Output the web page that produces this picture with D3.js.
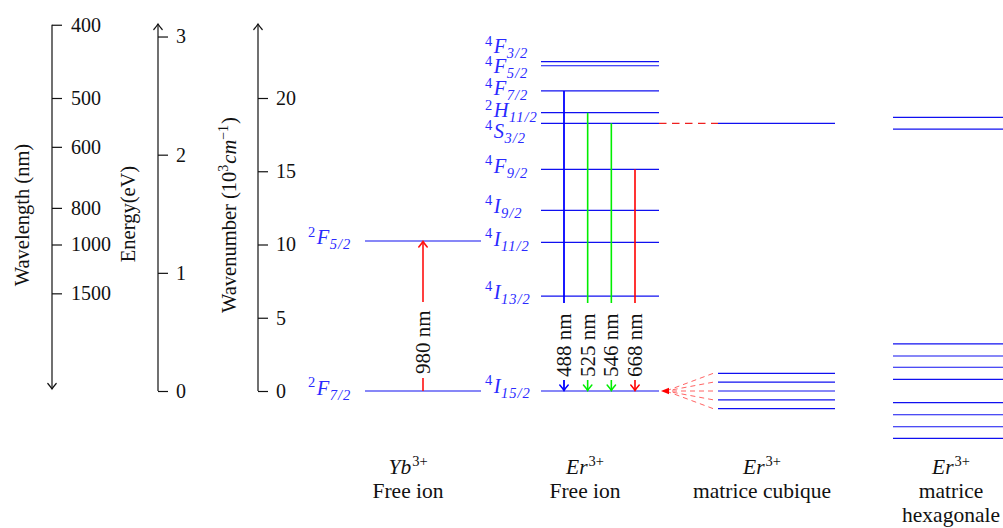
<!DOCTYPE html>
<html><head><meta charset="utf-8">
<script src="https://cdn.jsdelivr.net/npm/d3@7/dist/d3.min.js"></script>
<style>
html,body{margin:0;padding:0;background:#fff;}
svg{display:block;}
</style></head>
<body><svg id="chart" width="1003" height="528"></svg>
<script>
// ---------- data (wavenumbers in 10^3 cm^-1) ----------
const wavenumberTicks = [0, 5, 10, 15, 20];
const energyTicks = [0, 1, 2, 3];
const wavelengthTicks = [400, 500, 600, 800, 1000, 1500];

const ybNames = ["2F7/2", "2F5/2"];
const ybValues = [0, 10.24];

const erNames = ["4I15/2", "4I13/2", "4I11/2", "4I9/2", "4F9/2", "4S3/2", "2H11/2", "4F7/2", "4F5/2", "4F3/2"];
const erValues = [0, 6.48, 10.15, 12.33, 15.13, 18.27, 19.0, 20.48, 22.2, 22.48];

const transitionLabels = ["488 nm", "525 nm", "546 nm", "668 nm"];
const transitionFrom = ["4F7/2", "2H11/2", "4S3/2", "4F9/2"];
const transitionColors = ["#0000ff", "#00ee00", "#00ee00", "#ff0000"];

const cubicUpper = [18.27];
const cubicLower = [1.2, 0.6, 0, -0.6, -1.2];
const hexUpper = [18.68, 17.87];
const hexLower = [3.21, 2.39, 1.62, 0.80, -0.80, -1.62, -2.44, -3.23];

const columnTitles = [["Yb", "Free ion"], ["Er", "Free ion"], ["Er", "matrice cubique"], ["Er", "matrice", "hexagonale"]];

// ---------- layout ----------
const FONT = "'Liberation Serif', 'Times New Roman', 'DejaVu Serif', serif";
const svg = d3.select("#chart");
const y = d3.scaleLinear().domain([0, 20]).range([391, 98]);
const eV = 8.0655; // 10^3 cm^-1 per eV
const yE = d3.scaleLinear().domain([0, 3]).range([y(0), y(3 * eV)]);
const levelColor = "#1010f0";
const labelColor = "#2a2aff";
const FS_TICK = 20, FS_TITLE = 20.5, FS_COL = 21.5, FS_NM = 21;

function arrowHead(g, x, yy, dir, color, w) {
  const p = "M-4.2,5.5 Q-1.2,2 0,0 Q1.2,2 4.2,5.5";
  const rot = dir === "up" ? 0 : dir === "down" ? 180 : dir === "left" ? -90 : 90;
  g.append("path").attr("d", p)
    .attr("transform", `translate(${x},${yy}) rotate(${rot})`)
    .attr("fill", "none").attr("stroke", color).attr("stroke-width", w || 1.2)
    .attr("stroke-linecap", "round");
}

function styleAxis(g) {
  g.attr("font-family", null).attr("font-size", null);
  g.select(".domain").remove();
  g.selectAll(".tick line").attr("stroke", "#111").attr("stroke-width", 1.2);
  g.selectAll(".tick text").attr("fill", "#111").style("font-size", FS_TICK + "px");
}

// Wavelength axis
const gW = svg.append("g").attr("transform", "translate(52,0)");
gW.call(d3.axisRight(y).tickValues(wavelengthTicks.map(l => 1e4 / l))
  .tickFormat((d, i) => wavelengthTicks[i]).tickSize(10).tickPadding(9));
styleAxis(gW);
gW.append("line").attr("x1", 0).attr("x2", 0).attr("y1", y(25)).attr("y2", 389)
  .attr("stroke", "#111").attr("stroke-width", 1.2);
arrowHead(gW, 0, 389, "down", "#111");

// Energy axis
const gE = svg.append("g").attr("transform", "translate(158,0)");
gE.call(d3.axisRight(yE).tickValues(energyTicks).tickFormat(d3.format("d")).tickSize(10).tickPadding(8));
styleAxis(gE);
gE.append("line").attr("x1", 0).attr("x2", 0).attr("y1", 24).attr("y2", y(0))
  .attr("stroke", "#111").attr("stroke-width", 1.2);
arrowHead(gE, 0, 24, "up", "#111");

// Wavenumber axis
const gN = svg.append("g").attr("transform", "translate(258,0)");
gN.call(d3.axisRight(y).tickValues(wavenumberTicks).tickFormat(d3.format("d")).tickSize(10).tickPadding(8));
styleAxis(gN);
gN.append("line").attr("x1", 0).attr("x2", 0).attr("y1", 24).attr("y2", y(0))
  .attr("stroke", "#111").attr("stroke-width", 1.2);
arrowHead(gN, 0, 24, "up", "#111");

// Axis titles
function vTitle(x, cy, build) {
  const t = svg.append("text").attr("transform", `translate(${x},${cy}) rotate(-90)`)
    .attr("text-anchor", "middle").attr("dy", "0.35em").attr("fill", "#111")
    .style("font-size", FS_TITLE + "px");
  build(t);
}
vTitle(22, 215, t => t.text("Wavelength (nm)"));
vTitle(128, 214, t => t.text("Energy(eV)"));
vTitle(229, 215, t => {
  t.append("tspan").text("Wavenumber (10");
  t.append("tspan").text("3").style("font-size", "14px").attr("dy", -8);
  t.append("tspan").text("cm").style("font-style", "italic").attr("dy", 8).attr("dx", 1);
  t.append("tspan").text("−1").style("font-size", "14px").attr("dy", -8);
  t.append("tspan").text(")").attr("dy", 8).attr("dx", 1);
});

// term symbol label: "4F3/2" -> sup 4, F italic, sub 3/2
function termLabel(x, baseY, name) {
  const sup = name[0], letter = name[1], sub = name.slice(2);
  const t = svg.append("text").attr("x", x).attr("y", baseY).attr("fill", labelColor)
    .style("font-size", "20.5px");
  t.append("tspan").text(sup).style("font-size", "14.5px").attr("dy", -7.5);
  t.append("tspan").text(letter).style("font-style", "italic").attr("dy", 7.5).attr("dx", 1.5);
  t.append("tspan").text(sub).style("font-size", "14.5px").style("font-style", "italic")
    .style("letter-spacing", "1px").attr("dy", 5).attr("dx", 0.5);
}

// Columns
const cols = { yb: [365, 481], er: [541, 659], cub: [718, 835], hex: [893, 1010] };

function levelLine(x0, x1, v) {
  svg.append("line").attr("x1", x0).attr("x2", x1).attr("y1", y(v)).attr("y2", y(v))
    .attr("stroke", levelColor).attr("stroke-width", 1.2);
}

// Yb levels
ybValues.forEach(v => levelLine(cols.yb[0], cols.yb[1], v));
const ybLabelDy = [-3, -3];
ybNames.forEach((n, i) => termLabel(308, y(ybValues[i]) + ybLabelDy[i] + 6.5, n));

// Er levels
erValues.forEach(v => levelLine(cols.er[0], cols.er[1], v));
const erLabelDy = [-5, -4, -3, -4, -3, 8, -2, -2, 1, -15];
erNames.forEach((n, i) => termLabel(485, y(erValues[i]) + erLabelDy[i] + 6.5, n));

// Cubic + hexagonal
cubicUpper.concat(cubicLower).forEach(v => levelLine(cols.cub[0], cols.cub[1], v));
hexUpper.concat(hexLower).forEach(v => levelLine(cols.hex[0], cols.hex[1], v));

// labelled vertical arrow
function vArrow(x, yFrom, yTo, color, label, w, gapTop, gapBot, textBottom) {
  svg.append("line").attr("x1", x).attr("x2", x).attr("y1", yFrom).attr("y2", yTo)
    .attr("stroke", color).attr("stroke-width", w);
  svg.append("rect").attr("x", x - 9).attr("y", gapTop).attr("width", 18)
    .attr("height", gapBot - gapTop).attr("fill", "#fff");
  svg.append("text").attr("transform", `translate(${x},${textBottom}) rotate(-90)`)
    .attr("dy", "0.33em").attr("fill", "#111").style("font-size", FS_NM + "px").text(label);
}

// 980 nm pump
const x980 = 423;
vArrow(x980, y(0), y(ybValues[1]) + 1, "#ff1010", "980 nm", 1.6, 302, 378, 374);
arrowHead(svg, x980, y(ybValues[1]) + 0.5, "up", "#ff1010", 1.6);

// Er emissions
const xT = d3.scalePoint().domain(transitionLabels).range([564, 635]);
transitionLabels.forEach((lab, i) => {
  const from = erValues[erNames.indexOf(transitionFrom[i])];
  const x = xT(lab);
  vArrow(x, y(from), y(0) - 1, transitionColors[i], lab, i === 0 ? 1.8 : 1.6, 303, 380, 377);
  arrowHead(svg, x, y(0) - 0.5, "down", transitionColors[i], 1.5);
});

// dashed link 4S3/2 -> cubic
svg.append("line").attr("x1", cols.er[1]).attr("x2", cols.cub[0])
  .attr("y1", y(cubicUpper[0])).attr("y2", y(cubicUpper[0]))
  .attr("stroke", "#ee2020").attr("stroke-width", 1.2).attr("stroke-dasharray", "7.5,5.5");

// fan from cubic Stark levels to 4I15/2
cubicLower.forEach(v => {
  svg.append("line").attr("x1", cols.cub[0] - 5).attr("y1", y(v))
    .attr("x2", 666).attr("y2", y(0))
    .attr("stroke", "#ff3030").attr("stroke-opacity", 0.75).attr("stroke-width", 1)
    .attr("stroke-dasharray", "5,4");
});
svg.append("path").attr("d", "M0,0 L8,-3.2 L8,3.2 Z")
  .attr("transform", `translate(${cols.er[1] + 2},${y(0)})`).attr("fill", "#ff0000");

// column titles
const titleX = [408, 585, 762, 951];
columnTitles.forEach((lines, i) => {
  const t = svg.append("text").attr("x", titleX[i]).attr("y", 474)
    .attr("text-anchor", "middle").attr("fill", "#111").style("font-size", FS_COL + "px");
  t.append("tspan").text(lines[0]).style("font-style", "italic");
  t.append("tspan").text("3+").style("font-size", "14.5px").attr("dy", -8).attr("dx", 1);
  lines.slice(1).forEach((l, j) => {
    svg.append("text").attr("x", titleX[i]).attr("y", 498 + j * 23.5)
      .attr("text-anchor", "middle").attr("fill", "#111").style("font-size", FS_COL + "px").text(l);
  });
});

svg.selectAll("text").style("font-family", FONT);
</script></body></html>
